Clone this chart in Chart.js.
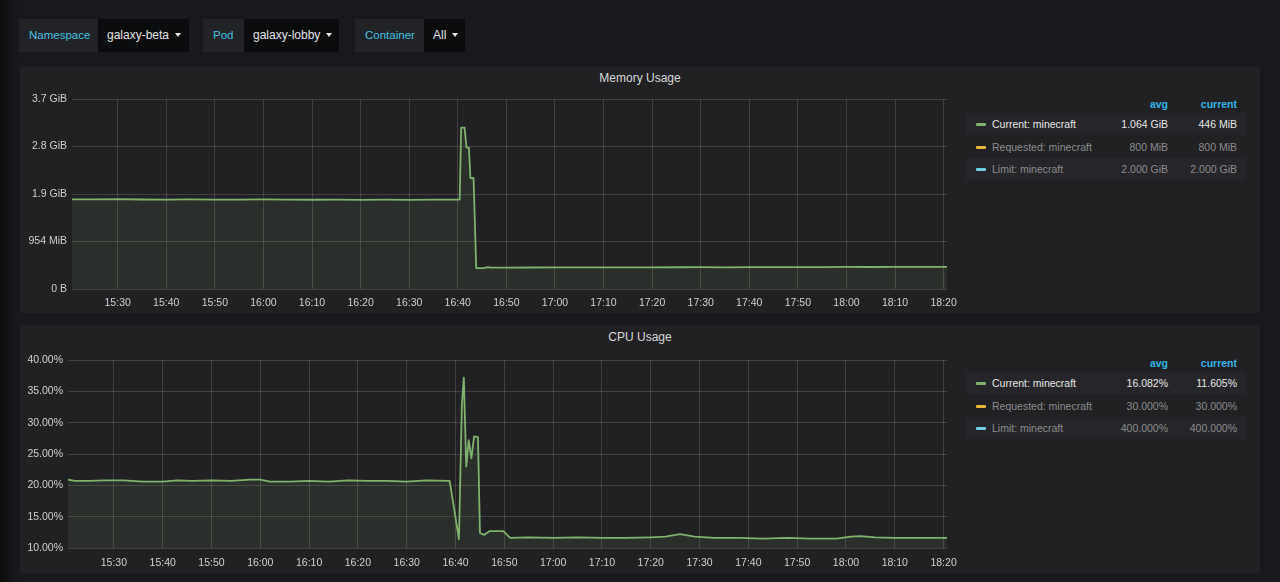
<!DOCTYPE html>
<html>
<head>
<meta charset="utf-8">
<title>Memory / CPU Usage</title>
<script src="https://cdn.jsdelivr.net/npm/chart.js@4.4.0/dist/chart.umd.min.js"></script>
<style>
  body { margin: 0; width: 1280px; height: 582px; overflow: hidden; position: relative;
         background: #18191c; font-family: 'Helvetica Neue', Helvetica, 'Liberation Sans', Arial, sans-serif; }
  .edge { position: absolute; left: 0; top: 0; width: 18px; height: 582px;
          background: linear-gradient(to right, #0d0d0f, #18191c); }
  .var { position: absolute; top: 19px; height: 33px; display: flex; }
  .var .lbl { background: #222326; color: #45c0e0; font-size: 11.5px; line-height: 33px;
              padding-left: 10px; box-sizing: border-box; white-space: nowrap; }
  .var .val { background: #0b0c0e; color: #e3e3e3; font-size: 12px; line-height: 33px;
              padding-left: 9px; box-sizing: border-box; white-space: nowrap; }
  .caret { display: inline-block; width: 0; height: 0; margin-left: 6px; vertical-align: 2px;
           border-left: 3.5px solid transparent; border-right: 3.5px solid transparent; border-top: 4px solid #e3e3e3; }
  .panel { position: absolute; left: 20px; width: 1240px; background: #212124; }
  .title { position: absolute; left: 0; width: 100%; text-align: center; color: #d8d9da; font-size: 12px; }
  .chart { position: absolute; left: 0; width: 940px; }
  .lhead { position: absolute; font-size: 10.5px; font-weight: bold; color: #33b5e5; }
  .lrow { position: absolute; left: 946px; width: 280px; height: 22px; font-size: 10.5px; line-height: 22px; }
  .lrow.odd { background: #26262a; }
  .lrow .mk { position: absolute; left: 10px; top: 10px; width: 10px; height: 3px; border-radius: 1px; }
  .lrow .nm { position: absolute; left: 26px; }
  .lrow .av { position: absolute; right: 78px; }
  .lrow .cu { position: absolute; right: 9px; }
</style>
</head>
<body>
<div class="edge"></div>

<div class="var" style="left:19px"><div class="lbl" style="width:79px">Namespace</div><div class="val" style="width:91px">galaxy-beta<span class="caret"></span></div></div>
<div class="var" style="left:203px"><div class="lbl" style="width:41px">Pod</div><div class="val" style="width:95px">galaxy-lobby<span class="caret"></span></div></div>
<div class="var" style="left:355px"><div class="lbl" style="width:69px">Container</div><div class="val" style="width:41px">All<span class="caret"></span></div></div>

<div class="panel" id="memPanel" style="top:66px;height:247px">
  <div class="title" style="top:5px">Memory Usage</div>
  <div class="chart" style="top:22px;height:225px"><canvas id="memChart"></canvas></div>
</div>

<div class="panel" id="cpuPanel" style="top:325px;height:248px">
  <div class="title" style="top:5px">CPU Usage</div>
  <div class="chart" style="top:22px;height:226px"><canvas id="cpuChart"></canvas></div>
</div>

<script>
// time axis, minutes of the day
const windowStart = 920.6;   // ~15:20:36
const windowEnd = 1100.7;    // ~18:20:42
const timeTicks = ['15:30', '15:40', '15:50', '16:00', '16:10', '16:20', '16:30', '16:40', '16:50',
                   '17:00', '17:10', '17:20', '17:30', '17:40', '17:50', '18:00', '18:10', '18:20'];

// Memory (MiB)
const memTickValues = [0, 954, 1908, 2862, 3816];
const memTickLabels = ['0 B', '954 MiB', '1.9 GiB', '2.8 GiB', '3.7 GiB'];
const memTimes = [920.6, 925, 930, 935, 940, 945, 950, 955, 960, 965, 970, 975, 980, 985, 990, 995, 1000.4,
                  1000.7, 1001.4, 1001.8, 1002.3, 1002.6, 1003.25, 1003.8, 1005.5, 1006.2, 1006.8,
                  1010, 1015, 1020, 1025, 1030, 1035, 1040, 1045, 1050, 1055, 1060, 1065, 1070, 1075,
                  1080, 1085, 1090, 1095, 1100.7];
const memValues = [1802, 1800, 1805, 1798, 1796, 1800, 1797, 1794, 1799, 1795, 1793, 1796, 1792, 1794, 1791, 1795, 1796,
                   3240, 3240, 2838, 2838, 2229, 2229, 420, 422, 440, 428,
                   430, 432, 434, 433, 435, 436, 434, 437, 438, 436, 439, 440, 438, 441,
                   443, 442, 445, 444, 446];

// CPU (%)
const cpuTickValues = [10, 15, 20, 25, 30, 35, 40];
const cpuTickLabels = ['10.00%', '15.00%', '20.00%', '25.00%', '30.00%', '35.00%', '40.00%'];
const cpuTimes = [920.6, 922, 925, 928, 932, 936, 940, 943, 946, 950, 954, 958, 960, 962, 966, 970, 974, 978,
                  982, 986, 990, 994, 998.8, 1000.7, 1001.3, 1001.7, 1002.2, 1002.7, 1003.25, 1003.8, 1004.6,
                  1005.0, 1005.9, 1007.0, 1009.8, 1011.2, 1015, 1020, 1025, 1030, 1035, 1040, 1043, 1046,
                  1049, 1053, 1058, 1063, 1068, 1073, 1078, 1081, 1083, 1086, 1090, 1095, 1100.7];
const cpuValues = [20.9, 20.7, 20.7, 20.8, 20.8, 20.6, 20.6, 20.8, 20.7, 20.8, 20.7, 20.9, 20.9, 20.6, 20.6, 20.7, 20.6, 20.8,
                   20.7, 20.7, 20.6, 20.8, 20.7, 11.4, 32.8, 37.2, 23.0, 27.2, 24.3, 27.8, 27.7,
                   12.4, 12.1, 12.7, 12.7, 11.6, 11.7, 11.6, 11.7, 11.6, 11.6, 11.7, 11.8, 12.2,
                   11.8, 11.6, 11.6, 11.5, 11.6, 11.5, 11.5, 11.8, 11.9, 11.7, 11.6, 11.6, 11.6];

// legend tables
const legendNames = ['Current: minecraft', 'Requested: minecraft', 'Limit: minecraft'];
const legendColors = ['#7eb26d', '#eab839', '#6ed0e0'];
const memAvg = ['1.064 GiB', '800 MiB', '2.000 GiB'];
const memCurrent = ['446 MiB', '800 MiB', '2.000 GiB'];
const cpuAvg = ['16.082%', '30.000%', '400.000%'];
const cpuCurrent = ['11.605%', '30.000%', '400.000%'];

const gridColor = 'rgba(255,255,255,0.14)';
const tickColor = '#cfd0d1';
const tickFont = { family: "'Helvetica Neue', Helvetica, 'Liberation Sans', Arial, sans-serif", size: 10.5 };

function toMinutes(label) {
  const [h, m] = label.split(':');
  return +h * 60 + +m;
}

function buildLegend(panelId, avg, current) {
  const panel = document.getElementById(panelId);
  const head1 = document.createElement('div');
  head1.className = 'lhead';
  head1.style.cssText = 'top:32px;right:92px';
  head1.textContent = 'avg';
  const head2 = document.createElement('div');
  head2.className = 'lhead';
  head2.style.cssText = 'top:32px;right:23px';
  head2.textContent = 'current';
  panel.appendChild(head1);
  panel.appendChild(head2);

  legendNames.forEach((name, i) => {
    const row = document.createElement('div');
    row.className = 'lrow' + (i % 2 === 0 ? ' odd' : '');
    row.style.top = (47 + i * 22.6) + 'px';
    row.style.color = i === 0 ? '#e6e6e6' : '#8c8c8e';
    row.innerHTML = `
      <div class="mk" style="background:${legendColors[i]}"></div>
      <span class="nm">${name}</span>
      <span class="av">${avg[i]}</span>
      <span class="cu">${current[i]}</span>`;
    panel.appendChild(row);
  });
}

function makeChart(id, times, values, y) {
  const ctx = document.getElementById(id).getContext('2d');
  return new Chart(ctx, {
    type: 'line',
    data: {
      datasets: [{
        label: 'Current: minecraft',
        data: times.map((t, i) => ({ x: t, y: values[i] })),
        borderColor: '#7eb26d',
        backgroundColor: 'rgba(126,178,109,0.1)',
        borderWidth: 1.8,
        borderJoinStyle: 'round',
        fill: 'start',
        pointRadius: 0,
        tension: 0
      }]
    },
    options: {
      responsive: true,
      maintainAspectRatio: false,
      animation: false,
      layout: { padding: { top: y.padTop, right: 13, bottom: 0, left: 0 } },
      plugins: { legend: { display: false }, tooltip: { enabled: false } },
      scales: {
        x: {
          type: 'linear',
          min: windowStart,
          max: windowEnd,
          afterBuildTicks: s => { s.ticks = timeTicks.map(t => ({ value: toMinutes(t) })); },
          afterFit: s => { s.height = y.xHeight; s.paddingLeft = 0; s.paddingRight = 0; },
          grid: { color: gridColor, drawTicks: false },
          border: { display: false },
          ticks: { color: tickColor, font: tickFont, padding: y.xPad, maxRotation: 0, autoSkip: false,
                   callback: (v, i) => timeTicks[i] }
        },
        y: {
          min: y.values[0],
          max: y.values[y.values.length - 1],
          afterBuildTicks: s => { s.ticks = y.values.map(v => ({ value: v })); },
          afterFit: s => { s.width = y.width; s.paddingTop = 0; s.paddingBottom = 0; },
          grid: { color: gridColor, drawTicks: false },
          border: { display: false },
          ticks: { color: tickColor, font: tickFont, padding: 5, callback: (v, i) => y.labels[i] }
        }
      }
    }
  });
}

buildLegend('memPanel', memAvg, memCurrent);
buildLegend('cpuPanel', cpuAvg, cpuCurrent);

makeChart('memChart', memTimes, memValues,
  { values: memTickValues, labels: memTickLabels, width: 52, padTop: 11, xHeight: 24, xPad: 8 });
makeChart('cpuChart', cpuTimes, cpuValues,
  { values: cpuTickValues, labels: cpuTickLabels, width: 48, padTop: 13, xHeight: 25, xPad: 9 });
</script>
</body>
</html>
